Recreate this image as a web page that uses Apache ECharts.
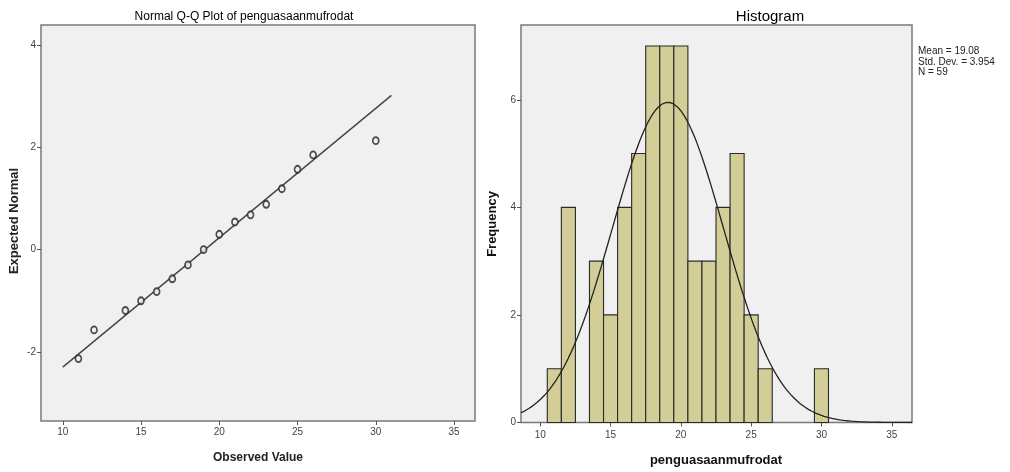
<!DOCTYPE html>
<html>
<head>
<meta charset="utf-8">
<script src="https://cdn.jsdelivr.net/npm/echarts@6/dist/echarts.min.js"></script>
<style>html,body{margin:0;padding:0;background:#fff}#c{width:1010px;height:472px}</style>
</head>
<body>
<div id="c"></div>
<script>
// ---- data ----
const qqObserved = [11, 12, 14, 15, 16, 17, 18, 19, 20, 21, 22, 23, 24, 25, 26, 30];
const qqExpected = [-2.13, -1.57, -1.19, -1.00, -0.82, -0.57, -0.30, 0.00, 0.30, 0.54, 0.68, 0.886, 1.19, 1.57, 1.85, 2.13];
const binCenters = [11, 12, 14, 15, 16, 17, 18, 19, 20, 21, 22, 23, 24, 25, 26, 30];
const binCounts  = [1, 4, 3, 2, 4, 5, 7, 7, 7, 3, 3, 4, 5, 2, 1, 1];
const mean = 19.08, stdDev = 3.954, nObs = 59;
const xTicks = [10, 15, 20, 25, 30, 35];
const qqYTicks = [-2, 0, 2, 4];
const histYTicks = [0, 2, 4, 6];
const qqLineX = [10, 31];

// ---- derived ----
const font = 'Liberation Sans, Arial, sans-serif';
const qqPts = qqObserved.map((v, i) => [v, qqExpected[i]]);
const qqLine = qqLineX.map(x => [x, (x - mean) / stdDev]);
const bars = binCenters.map((c, i) => [c - 0.5, c + 0.5, binCounts[i]]);
const curve = [];
const cx0 = 8.63, cx1 = 36.44;
for (let k = 0; k <= 200; k++) {
  const x = cx0 + (cx1 - cx0) * k / 200;
  const z = (x - mean) / stdDev;
  curve.push([x, nObs * 1 / (stdDev * Math.sqrt(2 * Math.PI)) * Math.exp(-0.5 * z * z)]);
}

const tickStyle = { show: true, length: 4, lineStyle: { color: '#555', width: 1 } };
const labelStyle = { color: '#444', fontSize: 10, fontFamily: font };
const noLine = { show: false, onZero: false };

const chart = echarts.init(document.getElementById('c'));
chart.setOption({
  animation: false,
  backgroundColor: '#fff',
  title: [
    { text: 'Normal Q-Q Plot of penguasaanmufrodat', left: 239, top: 6, textAlign: 'center',
      textStyle: { fontSize: 12, fontWeight: 'normal', color: '#000', fontFamily: font } },
    { text: 'Histogram', left: 765, top: 4, textAlign: 'center',
      textStyle: { fontSize: 15, fontWeight: 'normal', color: '#000', fontFamily: font } }
  ],
  grid: [
    { left: 41, right: 535, top: 25, bottom: 51, show: true, backgroundColor: '#f0f0f0', borderColor: '#7a7a7a', borderWidth: 1.5 },
    { left: 521, right: 98, top: 25, bottom: 49.5, show: true, backgroundColor: '#f0f0f0', borderColor: '#7a7a7a', borderWidth: 1.5 }
  ],
  xAxis: [
    { type: 'value', gridIndex: 0, min: 8.61, max: 36.34, splitLine: { show: false }, axisLine: noLine,
      axisTick: Object.assign({ customValues: xTicks }, tickStyle),
      axisLabel: Object.assign({ customValues: xTicks, margin: 6 }, labelStyle) },
    { type: 'value', gridIndex: 1, min: 8.63, max: 36.44, splitLine: { show: false }, axisLine: noLine,
      axisTick: Object.assign({ customValues: xTicks }, tickStyle),
      axisLabel: Object.assign({ customValues: xTicks, margin: 8 }, labelStyle) }
  ],
  yAxis: [
    { type: 'value', gridIndex: 0, min: -3.35, max: 4.39, splitLine: { show: false }, axisLine: noLine,
      axisTick: Object.assign({ customValues: qqYTicks }, tickStyle),
      axisLabel: Object.assign({ customValues: qqYTicks, margin: 5 }, labelStyle) },
    { type: 'value', gridIndex: 1, min: 0, max: 7.39, splitLine: { show: false }, axisLine: noLine,
      axisTick: Object.assign({ customValues: histYTicks }, tickStyle),
      axisLabel: Object.assign({ customValues: histYTicks, margin: 5 }, labelStyle) }
  ],
  series: [
    { type: 'line', xAxisIndex: 0, yAxisIndex: 0, data: qqLine, symbol: 'none',
      lineStyle: { color: '#444', width: 1.4 }, z: 2 },
    { type: 'scatter', xAxisIndex: 0, yAxisIndex: 0, data: qqPts, symbol: 'circle', symbolSize: [6, 7],
      itemStyle: { color: '#f0f0f0', borderColor: '#222', borderWidth: 1.7 }, z: 3 },
    { type: 'custom', xAxisIndex: 1, yAxisIndex: 1, data: bars, z: 2,
      renderItem: function (params, api) {
        const p0 = api.coord([api.value(0), 0]);
        const p1 = api.coord([api.value(1), api.value(2)]);
        return { type: 'rect', shape: { x: p0[0], y: p1[1], width: p1[0] - p0[0], height: p0[1] - p1[1] },
          style: { fill: '#d3ce97', stroke: '#2a2a2a', lineWidth: 1.1 } };
      } },
    { type: 'line', xAxisIndex: 1, yAxisIndex: 1, data: curve, symbol: 'none', smooth: false,
      lineStyle: { color: '#222', width: 1.3 }, z: 4 }
  ],
  graphic: [
    { type: 'text', x: 14, y: 221, rotation: Math.PI / 2,
      style: { text: 'Expected Normal', font: 'bold 13px ' + font, fill: '#222', align: 'center', verticalAlign: 'middle' } },
    { type: 'text', x: 258, y: 458,
      style: { text: 'Observed Value', font: 'bold 12px ' + font, fill: '#222', align: 'center', verticalAlign: 'middle' } },
    { type: 'text', x: 492, y: 224, rotation: Math.PI / 2,
      style: { text: 'Frequency', font: 'bold 13px ' + font, fill: '#111', align: 'center', verticalAlign: 'middle' } },
    { type: 'text', x: 716, y: 460,
      style: { text: 'penguasaanmufrodat', font: 'bold 13px ' + font, fill: '#111', align: 'center', verticalAlign: 'middle' } },
    { type: 'text', x: 918, y: 46,
      style: { text: 'Mean = ' + mean.toFixed(2) + '\nStd. Dev. = ' + stdDev.toFixed(3) + '\nN = ' + nObs,
        font: '10px ' + font, lineHeight: 10.5, fill: '#222', align: 'left', verticalAlign: 'top' } }
  ]
});
</script>
</body>
</html>
